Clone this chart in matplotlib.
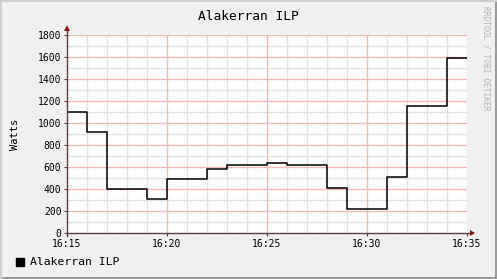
import matplotlib
matplotlib.use("Agg")
import matplotlib.pyplot as plt

title = "Alakerran ILP"
ylabel = "Watts"
series_name = "Alakerran ILP"
# per-minute values from 16:15 to 16:35
minutes = list(range(15, 35))
watts = [1100, 920, 400, 400, 305, 495, 495, 580, 620, 620,
         640, 615, 615, 405, 220, 220, 510, 1155, 1155, 1590]
yticks = [0, 200, 400, 600, 800, 1000, 1200, 1400, 1600, 1800]
xtick_labels = ["16:15", "16:20", "16:25", "16:30", "16:35"]

W, H = 497, 279
fig = plt.figure(figsize=(W/100, H/100), dpi=100, facecolor="#F0F0F0")
ax = fig.add_axes([67/W, 46/H, 400/W, 198/H])
ax.set_facecolor("white")

xs = minutes + [35]
ys = watts + [watts[-1]]
ax.step(xs, ys, where="post", color="black", lw=1.1, zorder=5)

ax.set_xlim(15, 35)
ax.set_ylim(0, 1800)

# grids
for m in range(16, 36):
    if (m - 15) % 5 == 0:
        continue
    ax.axvline(m, color="#e2e2e2", lw=1.0, zorder=1)
for v in range(100, 1801, 200):
    ax.axhline(v, color="#e2e2e2", lw=1.0, zorder=1)
for m in range(20, 36, 5):
    ax.axvline(m, color="#f5b8b8", lw=1.0, zorder=2)
for v in range(200, 1801, 200):
    ax.axhline(v, color="#f5b8b8", lw=1.0, zorder=2)

for s in ["top", "right", "left", "bottom"]:
    ax.spines[s].set_visible(False)

axis_col = "#5a4040"
arrow_col = "#8b1a1a"
pxx = 20 / 400.0
pxy = 1800 / 198.0
# axis lines
ax.plot([15, 35 + 5 * pxx], [0, 0], color=axis_col, lw=1, clip_on=False, zorder=6)
ax.plot([15, 15], [-3 * pxy, 1800 + 5 * pxy], color=axis_col, lw=1, clip_on=False, zorder=6)
# arrow heads
ax.fill([35 + 3 * pxx, 35 + 3 * pxx, 35 + 8 * pxx], [-3 * pxy, 3 * pxy, 0],
        color=arrow_col, clip_on=False, zorder=7, lw=0)
ax.fill([15 - 3 * pxx, 15 + 3 * pxx, 15], [1800 + 4 * pxy, 1800 + 4 * pxy, 1800 + 10 * pxy],
        color=arrow_col, clip_on=False, zorder=7, lw=0)

ax.set_yticks(yticks)
ax.set_yticklabels([str(v) for v in yticks])
ax.set_xticks([15, 20, 25, 30, 35])
ax.set_xticklabels(xtick_labels)
ax.tick_params(axis="both", length=2, width=0.8, color=axis_col,
               labelsize=7, pad=2)
for lab in ax.get_xticklabels() + ax.get_yticklabels():
    lab.set_family("DejaVu Sans Mono")

fig.text(248/W, 1 - 17/H, title, ha="center", va="center",
         family="DejaVu Sans Mono", fontsize=9.3)
fig.text(15/W, 1 - 134/H, ylabel, ha="center", va="center", rotation=90,
         family="DejaVu Sans Mono", fontsize=7.5)
fig.text(486/W, 1 - 58/H, "RRDTOOL / TOBI OETIKER", ha="center", va="center",
         rotation=270, family="DejaVu Sans Mono", fontsize=5.7, color="#b4b4b4")

# legend
fig.patches.append(plt.Rectangle((16/W, 1 - 266/H), 8/W, 8/H,
                                 transform=fig.transFigure, color="black"))
fig.text(30/W, 1 - 262/H, series_name, ha="left", va="center",
         family="DejaVu Sans Mono", fontsize=8.2)

# frame border
fig.lines.append(plt.Line2D([1 - 1.5/W, 1 - 1.5/W], [0, 1], transform=fig.transFigure,
                            color="#9c9c9c", lw=2.2))
fig.lines.append(plt.Line2D([0, 1], [1.5/H, 1.5/H], transform=fig.transFigure,
                            color="#9c9c9c", lw=2.2))
fig.lines.append(plt.Line2D([0, 1], [1 - 1/H, 1 - 1/H], transform=fig.transFigure,
                            color="#cfcfcf", lw=1.5))
fig.lines.append(plt.Line2D([1/W, 1/W], [0, 1], transform=fig.transFigure,
                            color="#cfcfcf", lw=1.5))

fig.savefig("out.png", dpi=100, facecolor=fig.get_facecolor())
